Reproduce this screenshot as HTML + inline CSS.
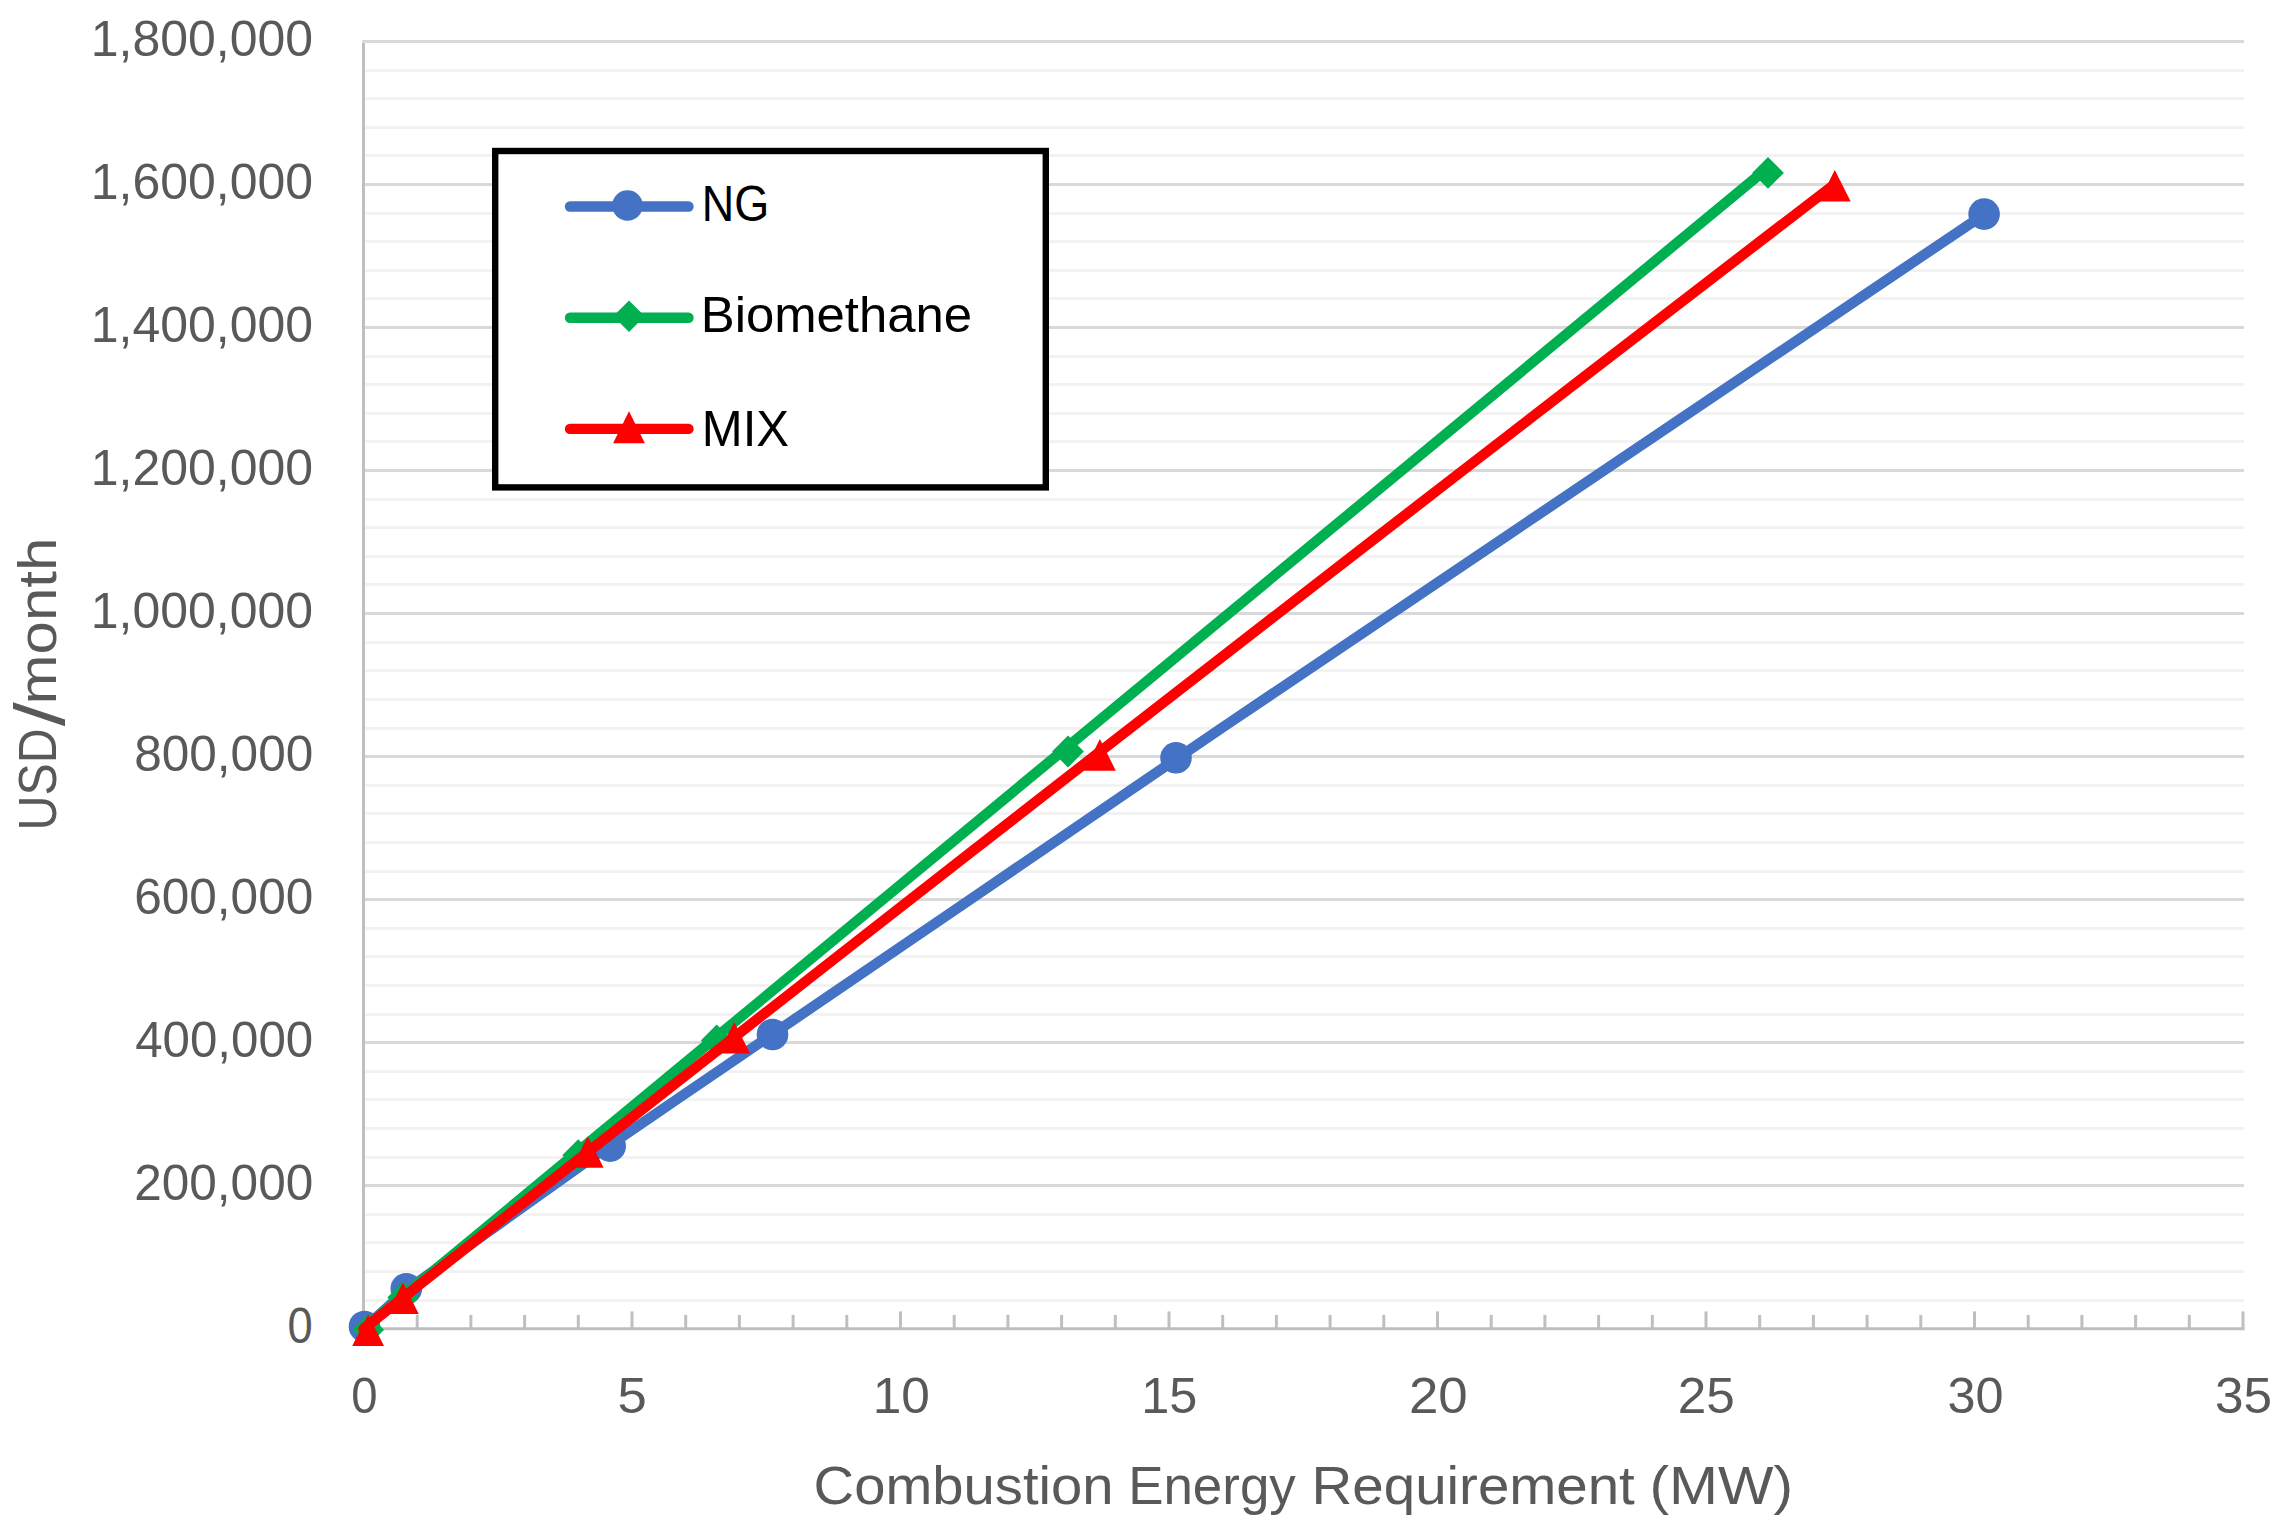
<!DOCTYPE html>
<html lang="en"><head><meta charset="utf-8"><title>USD/month vs Combustion Energy Requirement (MW)</title>
<style>html,body{margin:0;padding:0;background:#fff}body{width:2284px;height:1535px;overflow:hidden}svg{display:block}text{font-family:"Liberation Sans",sans-serif}</style>
</head><body>
<svg width="2284" height="1535" viewBox="0 0 2284 1535">
<rect x="0" y="0" width="2284" height="1535" fill="#ffffff"/>
<g stroke="#f2f2f2" stroke-width="3" shape-rendering="crispEdges">
<line x1="363.5" y1="1300.19" x2="2243.8" y2="1300.19"/>
<line x1="363.5" y1="1271.58" x2="2243.8" y2="1271.58"/>
<line x1="363.5" y1="1242.97" x2="2243.8" y2="1242.97"/>
<line x1="363.5" y1="1214.36" x2="2243.8" y2="1214.36"/>
<line x1="363.5" y1="1157.15" x2="2243.8" y2="1157.15"/>
<line x1="363.5" y1="1128.54" x2="2243.8" y2="1128.54"/>
<line x1="363.5" y1="1099.93" x2="2243.8" y2="1099.93"/>
<line x1="363.5" y1="1071.32" x2="2243.8" y2="1071.32"/>
<line x1="363.5" y1="1014.10" x2="2243.8" y2="1014.10"/>
<line x1="363.5" y1="985.49" x2="2243.8" y2="985.49"/>
<line x1="363.5" y1="956.88" x2="2243.8" y2="956.88"/>
<line x1="363.5" y1="928.28" x2="2243.8" y2="928.28"/>
<line x1="363.5" y1="871.06" x2="2243.8" y2="871.06"/>
<line x1="363.5" y1="842.45" x2="2243.8" y2="842.45"/>
<line x1="363.5" y1="813.84" x2="2243.8" y2="813.84"/>
<line x1="363.5" y1="785.23" x2="2243.8" y2="785.23"/>
<line x1="363.5" y1="728.01" x2="2243.8" y2="728.01"/>
<line x1="363.5" y1="699.40" x2="2243.8" y2="699.40"/>
<line x1="363.5" y1="670.80" x2="2243.8" y2="670.80"/>
<line x1="363.5" y1="642.19" x2="2243.8" y2="642.19"/>
<line x1="363.5" y1="584.97" x2="2243.8" y2="584.97"/>
<line x1="363.5" y1="556.36" x2="2243.8" y2="556.36"/>
<line x1="363.5" y1="527.75" x2="2243.8" y2="527.75"/>
<line x1="363.5" y1="499.14" x2="2243.8" y2="499.14"/>
<line x1="363.5" y1="441.92" x2="2243.8" y2="441.92"/>
<line x1="363.5" y1="413.32" x2="2243.8" y2="413.32"/>
<line x1="363.5" y1="384.71" x2="2243.8" y2="384.71"/>
<line x1="363.5" y1="356.10" x2="2243.8" y2="356.10"/>
<line x1="363.5" y1="298.88" x2="2243.8" y2="298.88"/>
<line x1="363.5" y1="270.27" x2="2243.8" y2="270.27"/>
<line x1="363.5" y1="241.66" x2="2243.8" y2="241.66"/>
<line x1="363.5" y1="213.05" x2="2243.8" y2="213.05"/>
<line x1="363.5" y1="155.84" x2="2243.8" y2="155.84"/>
<line x1="363.5" y1="127.23" x2="2243.8" y2="127.23"/>
<line x1="363.5" y1="98.62" x2="2243.8" y2="98.62"/>
<line x1="363.5" y1="70.01" x2="2243.8" y2="70.01"/>
</g>
<g stroke="#d9d9d9" stroke-width="3" shape-rendering="crispEdges">
<line x1="362.0" y1="1185.76" x2="2243.8" y2="1185.76"/>
<line x1="362.0" y1="1042.71" x2="2243.8" y2="1042.71"/>
<line x1="362.0" y1="899.67" x2="2243.8" y2="899.67"/>
<line x1="362.0" y1="756.62" x2="2243.8" y2="756.62"/>
<line x1="362.0" y1="613.58" x2="2243.8" y2="613.58"/>
<line x1="362.0" y1="470.53" x2="2243.8" y2="470.53"/>
<line x1="362.0" y1="327.49" x2="2243.8" y2="327.49"/>
<line x1="362.0" y1="184.44" x2="2243.8" y2="184.44"/>
<line x1="362.0" y1="41.40" x2="2243.8" y2="41.40"/>
</g>
<g stroke="#bfbfbf" stroke-width="3" fill="none">
<line x1="363.5" y1="42.90" x2="363.5" y2="1330.30"/>
<line x1="362.0" y1="1328.80" x2="2244.5" y2="1328.80"/>
<line x1="417.20" y1="1314.9" x2="417.20" y2="1328.8"/>
<line x1="470.90" y1="1314.9" x2="470.90" y2="1328.8"/>
<line x1="524.60" y1="1314.9" x2="524.60" y2="1328.8"/>
<line x1="578.30" y1="1314.9" x2="578.30" y2="1328.8"/>
<line x1="632.00" y1="1311.4" x2="632.00" y2="1328.8"/>
<line x1="685.70" y1="1314.9" x2="685.70" y2="1328.8"/>
<line x1="739.40" y1="1314.9" x2="739.40" y2="1328.8"/>
<line x1="793.10" y1="1314.9" x2="793.10" y2="1328.8"/>
<line x1="846.80" y1="1314.9" x2="846.80" y2="1328.8"/>
<line x1="900.50" y1="1311.4" x2="900.50" y2="1328.8"/>
<line x1="954.20" y1="1314.9" x2="954.20" y2="1328.8"/>
<line x1="1007.90" y1="1314.9" x2="1007.90" y2="1328.8"/>
<line x1="1061.60" y1="1314.9" x2="1061.60" y2="1328.8"/>
<line x1="1115.30" y1="1314.9" x2="1115.30" y2="1328.8"/>
<line x1="1169.00" y1="1311.4" x2="1169.00" y2="1328.8"/>
<line x1="1222.70" y1="1314.9" x2="1222.70" y2="1328.8"/>
<line x1="1276.40" y1="1314.9" x2="1276.40" y2="1328.8"/>
<line x1="1330.10" y1="1314.9" x2="1330.10" y2="1328.8"/>
<line x1="1383.80" y1="1314.9" x2="1383.80" y2="1328.8"/>
<line x1="1437.50" y1="1311.4" x2="1437.50" y2="1328.8"/>
<line x1="1491.20" y1="1314.9" x2="1491.20" y2="1328.8"/>
<line x1="1544.90" y1="1314.9" x2="1544.90" y2="1328.8"/>
<line x1="1598.60" y1="1314.9" x2="1598.60" y2="1328.8"/>
<line x1="1652.30" y1="1314.9" x2="1652.30" y2="1328.8"/>
<line x1="1706.00" y1="1311.4" x2="1706.00" y2="1328.8"/>
<line x1="1759.70" y1="1314.9" x2="1759.70" y2="1328.8"/>
<line x1="1813.40" y1="1314.9" x2="1813.40" y2="1328.8"/>
<line x1="1867.10" y1="1314.9" x2="1867.10" y2="1328.8"/>
<line x1="1920.80" y1="1314.9" x2="1920.80" y2="1328.8"/>
<line x1="1974.50" y1="1311.4" x2="1974.50" y2="1328.8"/>
<line x1="2028.20" y1="1314.9" x2="2028.20" y2="1328.8"/>
<line x1="2081.90" y1="1314.9" x2="2081.90" y2="1328.8"/>
<line x1="2135.60" y1="1314.9" x2="2135.60" y2="1328.8"/>
<line x1="2189.30" y1="1314.9" x2="2189.30" y2="1328.8"/>
<line x1="2243.00" y1="1311.4" x2="2243.00" y2="1328.8"/>
</g>
<rect x="495.2" y="151" width="550.6" height="336.4" fill="#ffffff" stroke="#000000" stroke-width="6.4"/>
<polyline fill="none" stroke="#4472c4" stroke-width="10.4" stroke-linecap="round" stroke-linejoin="round" points="363.5,1328.8 405.3,1291.0 605.0,1148.4 676.3,1099.8 970.2,899.5 1221.7,728.0 1901.3,270.1 1981.2,216.4"/>
<circle cx="364.5" cy="1326.5" r="15.8" fill="#4472c4"/>
<circle cx="406.3" cy="1288.7" r="15.8" fill="#4472c4"/>
<circle cx="610.2" cy="1146.1" r="15.8" fill="#4472c4"/>
<circle cx="772.5" cy="1034.5" r="15.8" fill="#4472c4"/>
<circle cx="1176.0" cy="757.8" r="15.8" fill="#4472c4"/>
<circle cx="1984.1" cy="214.1" r="15.8" fill="#4472c4"/>
<polyline fill="none" stroke="#00b050" stroke-width="10.4" stroke-linecap="round" stroke-linejoin="round" points="363.5,1328.8 1763.0,171.7"/>
<polygon fill="#00b050" points="368.2,1313.9 384.1,1329.8 368.2,1345.7 352.3,1329.8"/>
<polygon fill="#00b050" points="403.2,1281.6 419.1,1297.5 403.2,1313.4 387.3,1297.5"/>
<polygon fill="#00b050" points="578.2,1139.3 594.1,1155.2 578.2,1171.1 562.3,1155.2"/>
<polygon fill="#00b050" points="716.7,1024.6 732.6,1040.5 716.7,1056.4 700.8,1040.5"/>
<polygon fill="#00b050" points="1068.0,735.6 1083.9,751.5 1068.0,767.4 1052.1,751.5"/>
<polygon fill="#00b050" points="1768.0,157.0 1783.9,172.9 1768.0,188.8 1752.1,172.9"/>
<polyline fill="none" stroke="#ff0000" stroke-width="10.4" stroke-linecap="round" stroke-linejoin="round" points="363.5,1328.8 484.4,1233.5 605.6,1138.2 727.1,1042.8 848.9,947.5 971.0,852.2 1093.3,756.9 1216.0,661.6 1338.9,566.3 1462.2,471.0 1585.7,375.6 1709.5,280.3 1833.6,185.0"/>
<polygon fill="#ff0000" points="368.1,1314.4 384.0,1346.0 352.2,1346.0"/>
<polygon fill="#ff0000" points="402.9,1282.4 418.8,1314.0 387.0,1314.0"/>
<polygon fill="#ff0000" points="587.7,1136.2 603.6,1167.8 571.8,1167.8"/>
<polygon fill="#ff0000" points="734.2,1022.0 750.1,1053.6 718.3,1053.6"/>
<polygon fill="#ff0000" points="1099.9,739.1 1115.8,770.7 1084.0,770.7"/>
<polygon fill="#ff0000" points="1834.8,169.9 1850.7,201.5 1818.9,201.5"/>
<line x1="570" y1="206.5" x2="688.5" y2="206.5" stroke="#4472c4" stroke-width="10.4" stroke-linecap="round"/>
<circle cx="627.5" cy="205.5" r="15.3" fill="#4472c4"/>
<line x1="570" y1="317.7" x2="688.5" y2="317.7" stroke="#00b050" stroke-width="10.4" stroke-linecap="round"/>
<polygon fill="#00b050" points="629.0,300.4 644.8,316.2 629.0,332.0 613.2,316.2"/>
<line x1="570" y1="428.9" x2="688.5" y2="428.9" stroke="#ff0000" stroke-width="10.4" stroke-linecap="round"/>
<polygon fill="#ff0000" points="629.0,411.3 644.9,443.3 613.1,443.3"/>
<text x="287.40" y="1343.10" font-size="49.40" fill="#595959" textLength="25.21" lengthAdjust="spacingAndGlyphs">0</text>
<text x="134.20" y="1200.06" font-size="49.40" fill="#595959" textLength="179.06" lengthAdjust="spacingAndGlyphs">200,000</text>
<text x="135.20" y="1057.01" font-size="49.40" fill="#595959" textLength="178.05" lengthAdjust="spacingAndGlyphs">400,000</text>
<text x="134.20" y="913.97" font-size="49.40" fill="#595959" textLength="179.06" lengthAdjust="spacingAndGlyphs">600,000</text>
<text x="134.20" y="770.92" font-size="49.40" fill="#595959" textLength="179.06" lengthAdjust="spacingAndGlyphs">800,000</text>
<text x="90.80" y="627.88" font-size="49.40" fill="#595959" textLength="222.29" lengthAdjust="spacingAndGlyphs">1,000,000</text>
<text x="90.80" y="484.83" font-size="49.40" fill="#595959" textLength="222.29" lengthAdjust="spacingAndGlyphs">1,200,000</text>
<text x="90.80" y="341.79" font-size="49.40" fill="#595959" textLength="222.29" lengthAdjust="spacingAndGlyphs">1,400,000</text>
<text x="90.80" y="198.74" font-size="49.40" fill="#595959" textLength="222.29" lengthAdjust="spacingAndGlyphs">1,600,000</text>
<text x="90.80" y="55.70" font-size="49.40" fill="#595959" textLength="222.29" lengthAdjust="spacingAndGlyphs">1,800,000</text>
<text x="351.20" y="1413.00" font-size="49.40" fill="#595959" textLength="26.32" lengthAdjust="spacingAndGlyphs">0</text>
<text x="617.60" y="1413.00" font-size="49.40" fill="#595959" textLength="29.28" lengthAdjust="spacingAndGlyphs">5</text>
<text x="872.80" y="1413.00" font-size="49.40" fill="#595959" textLength="57.15" lengthAdjust="spacingAndGlyphs">10</text>
<text x="1141.20" y="1413.00" font-size="49.40" fill="#595959" textLength="56.05" lengthAdjust="spacingAndGlyphs">15</text>
<text x="1409.00" y="1413.00" font-size="49.40" fill="#595959" textLength="58.74" lengthAdjust="spacingAndGlyphs">20</text>
<text x="1677.80" y="1413.00" font-size="49.40" fill="#595959" textLength="57.10" lengthAdjust="spacingAndGlyphs">25</text>
<text x="1947.60" y="1413.00" font-size="49.40" fill="#595959" textLength="56.04" lengthAdjust="spacingAndGlyphs">30</text>
<text x="2215.00" y="1413.00" font-size="49.40" fill="#595959" textLength="57.10" lengthAdjust="spacingAndGlyphs">35</text>
<text x="701.80" y="220.70" font-size="49.40" fill="#000000" textLength="67.47" lengthAdjust="spacingAndGlyphs">NG</text>
<text x="700.80" y="331.90" font-size="49.40" fill="#000000" textLength="271.26" lengthAdjust="spacingAndGlyphs">Biomethane</text>
<text x="701.80" y="446.10" font-size="49.40" fill="#000000" textLength="87.29" lengthAdjust="spacingAndGlyphs">MIX</text>
<text font-size="54.50" fill="#595959"><tspan x="813.60" y="1504.30" textLength="300.00" lengthAdjust="spacingAndGlyphs">Combustion</tspan> <tspan x="1128.20" y="1504.30" textLength="167.55" lengthAdjust="spacingAndGlyphs">Energy</tspan> <tspan x="1311.60" y="1504.30" textLength="323.18" lengthAdjust="spacingAndGlyphs">Requirement</tspan> <tspan x="1649.40" y="1504.30" textLength="143.72" lengthAdjust="spacingAndGlyphs">(MW)</tspan></text>
<text font-size="54.50" fill="#595959" transform="rotate(-90)"><tspan x="-830.40" y="56.20" textLength="101.88" lengthAdjust="spacingAndGlyphs">USD</tspan><tspan x="-726.20" y="64.40" font-size="70.00" textLength="24.08" lengthAdjust="spacingAndGlyphs">/</tspan><tspan x="-704.40" y="56.20" textLength="166.64" lengthAdjust="spacingAndGlyphs">month</tspan></text>
</svg>
</body></html>
